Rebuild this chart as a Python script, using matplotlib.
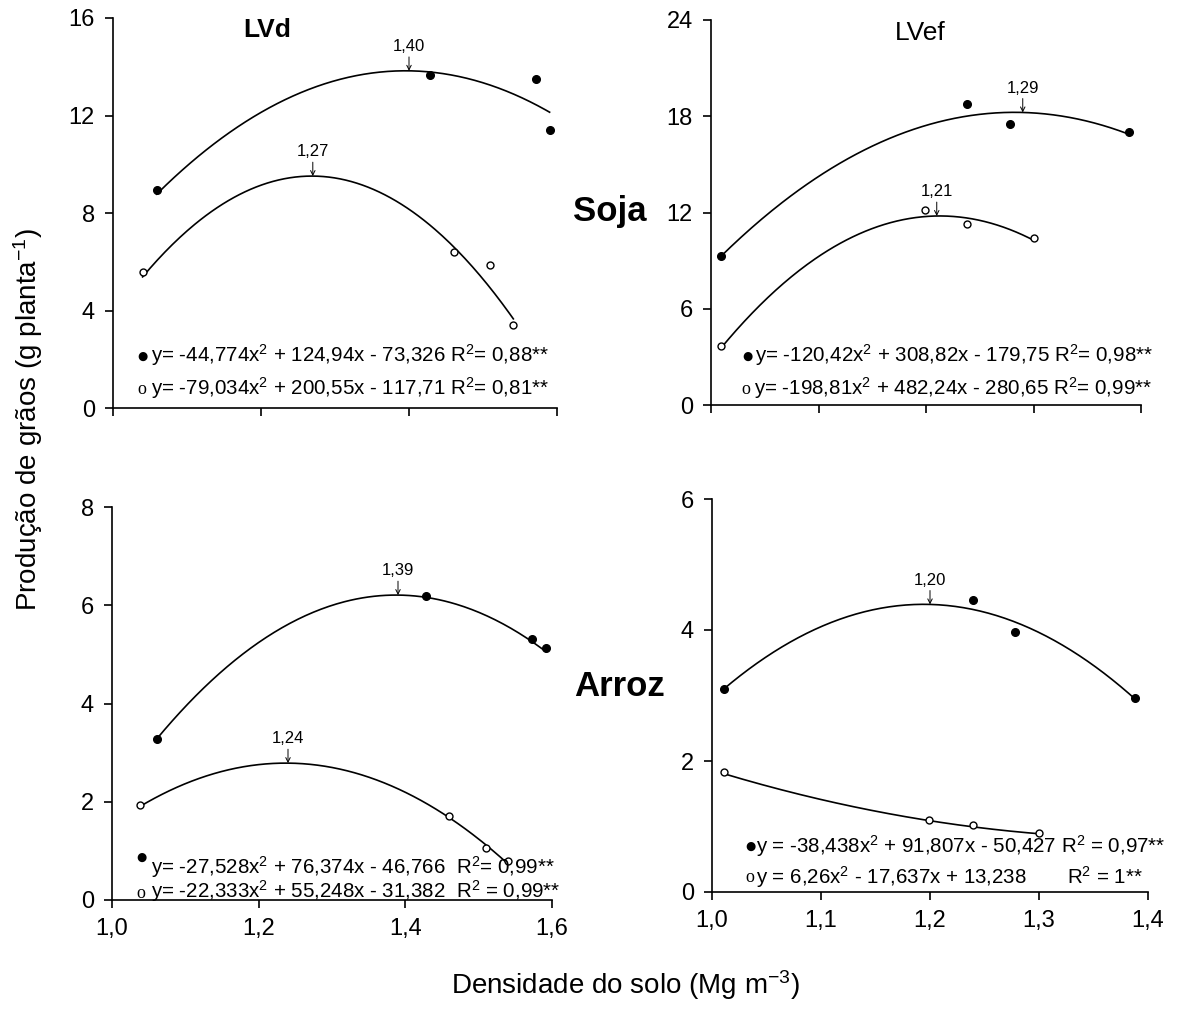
import numpy as np
import matplotlib.pyplot as plt

plt.rcParams['font.family'] = ['Liberation Sans', 'DejaVu Sans']
plt.rcParams['mathtext.fontset'] = 'custom'
plt.rcParams['mathtext.rm'] = 'Liberation Sans'
plt.rcParams['mathtext.it'] = 'Liberation Sans:italic'
plt.rcParams['mathtext.bf'] = 'Liberation Sans:bold'

# %%
# Dados (densidade do solo, produção de grãos)
# LVd - Soja
lvd_soja_x_cheio = [1.059, 1.428, 1.572, 1.590]
lvd_soja_y_cheio = [8.93, 13.65, 13.50, 11.40]
lvd_soja_x_vazio = [1.040, 1.461, 1.510, 1.541]
lvd_soja_y_vazio = [5.57, 6.40, 5.86, 3.40]
lvd_soja_coef_cheio = [-44.774, 124.94, -73.326]
lvd_soja_coef_vazio = [-79.034, 200.55, -117.71]
lvd_soja_max = [1.40, 1.27]

# LVef - Soja
lvef_soja_x_cheio = [1.009, 1.238, 1.278, 1.389]
lvef_soja_y_cheio = [9.29, 18.76, 17.50, 17.00]
lvef_soja_x_vazio = [1.009, 1.199, 1.238, 1.300]
lvef_soja_y_vazio = [3.68, 12.16, 11.30, 10.40]
lvef_soja_coef_cheio = [-120.42, 308.82, -179.75]
lvef_soja_coef_vazio = [-198.81, 482.24, -280.65]
lvef_soja_max = [1.29, 1.21]

# LVd - Arroz
lvd_arroz_x_cheio = [1.061, 1.428, 1.573, 1.592]
lvd_arroz_y_cheio = [3.28, 6.19, 5.31, 5.13]
lvd_arroz_x_vazio = [1.038, 1.460, 1.510, 1.540]
lvd_arroz_y_vazio = [1.93, 1.71, 1.06, 0.79]
lvd_arroz_coef_cheio = [-27.528, 76.374, -46.766]
lvd_arroz_coef_vazio = [-22.333, 55.248, -31.382]
lvd_arroz_max = [1.39, 1.24]

# LVef - Arroz
lvef_arroz_x_cheio = [1.011, 1.239, 1.278, 1.388]
lvef_arroz_y_cheio = [3.10, 4.46, 3.97, 2.96]
lvef_arroz_x_vazio = [1.011, 1.199, 1.239, 1.300]
lvef_arroz_y_vazio = [1.83, 1.10, 1.02, 0.90]
lvef_arroz_coef_cheio = [-38.438, 91.807, -50.427]
lvef_arroz_coef_vazio = [6.26, -17.637, 13.238]
lvef_arroz_max = [1.20]

# Ticks dos eixos
ticks_x_lvd = [1.0, 1.2, 1.4, 1.6]
ticks_x_lvef = [1.0, 1.1, 1.2, 1.3, 1.4]
ticks_y_soja_lvd = [0, 4, 8, 12, 16]
ticks_y_soja_lvef = [0, 6, 12, 18, 24]
ticks_y_arroz_lvd = [0, 2, 4, 6, 8]
ticks_y_arroz_lvef = [0, 2, 4, 6]

# %%
W, H = 1188, 1029
fig = plt.figure(figsize=(W / 100, H / 100), dpi=100)


def fx(px):
    return px / W


def fy(py):
    return 1 - py / H


def virgula(v, casas):
    return f"{v:.{casas}f}".replace('.', ',')


def curva(ax, xs, coef):
    x = np.linspace(min(xs), max(xs), 200)
    y = coef[0] * x ** 2 + coef[1] * x + coef[2]
    ax.plot(x, y, color='black', lw=1.2, zorder=2)


def seta(ax, x0, coef):
    y0 = coef[0] * x0 ** 2 + coef[1] * x0 + coef[2]
    ax.annotate(virgula(x0, 2), xy=(x0, y0), xytext=(0, 12), textcoords='offset points',
                ha='center', va='bottom', fontsize=12,
                arrowprops=dict(arrowstyle='->', lw=0.7, color='black',
                                shrinkA=0, shrinkB=0, mutation_scale=8))


def painel(ax, xc, yc, xv, yv, cc, cv, maximos, xticks, yticks, ndec_x):
    curva(ax, xc, cc)
    curva(ax, xv, cv)
    ax.plot(xc, yc, 'o', color='black', ms=5.5, zorder=3)
    ax.plot(xv, yv, 'o', mfc='white', mec='black', mew=1.0, ms=5, zorder=3)
    seta(ax, maximos[0], cc)
    if len(maximos) > 1:
        seta(ax, maximos[1], cv)
    ax.set_xlim(xticks[0], xticks[-1])
    ax.set_ylim(yticks[0], yticks[-1])
    ax.set_xticks(xticks)
    ax.set_yticks(yticks)
    ax.set_xticklabels([virgula(t, ndec_x) for t in xticks])
    ax.set_yticklabels([str(t) for t in yticks])
    for s in ['top', 'right']:
        ax.spines[s].set_visible(False)
    for s in ['left', 'bottom']:
        ax.spines[s].set_linewidth(1.2)
    ax.tick_params(direction='out', length=6, width=1.2, labelsize=17, pad=7)
    ax.patch.set_alpha(0)


ax1 = fig.add_axes([fx(113), fy(408), fx(557) - fx(113), fy(18) - fy(408)])
painel(ax1, lvd_soja_x_cheio, lvd_soja_y_cheio, lvd_soja_x_vazio, lvd_soja_y_vazio,
       lvd_soja_coef_cheio, lvd_soja_coef_vazio, lvd_soja_max, ticks_x_lvd, ticks_y_soja_lvd, 1)
ax1.tick_params(labelbottom=False)

ax2 = fig.add_axes([fx(711), fy(405), fx(1141) - fx(711), fy(20) - fy(405)])
painel(ax2, lvef_soja_x_cheio, lvef_soja_y_cheio, lvef_soja_x_vazio, lvef_soja_y_vazio,
       lvef_soja_coef_cheio, lvef_soja_coef_vazio, lvef_soja_max, ticks_x_lvef, ticks_y_soja_lvef, 1)
ax2.tick_params(labelbottom=False)

ax3 = fig.add_axes([fx(112), fy(900), fx(552) - fx(112), fy(507) - fy(900)])
painel(ax3, lvd_arroz_x_cheio, lvd_arroz_y_cheio, lvd_arroz_x_vazio, lvd_arroz_y_vazio,
       lvd_arroz_coef_cheio, lvd_arroz_coef_vazio, lvd_arroz_max, ticks_x_lvd, ticks_y_arroz_lvd, 1)

ax4 = fig.add_axes([fx(712), fy(892), fx(1148) - fx(712), fy(499) - fy(892)])
painel(ax4, lvef_arroz_x_cheio, lvef_arroz_y_cheio, lvef_arroz_x_vazio, lvef_arroz_y_vazio,
       lvef_arroz_coef_cheio, lvef_arroz_coef_vazio, lvef_arroz_max, ticks_x_lvef, ticks_y_arroz_lvef, 1)

# %%
# Equações de regressão
eq_fs = 14.8


def equacao(px_sim, py_sim, simbolo, px_txt, py_txt, texto):
    if simbolo == 'cheio':
        fig.text(fx(px_sim), fy(py_sim), '●', fontsize=8.5, ha='center', va='center',
                 family=['DejaVu Sans'])
    else:
        fig.text(fx(px_sim), fy(py_sim), 'o', fontsize=13, ha='center', va='center',
                 family=['Liberation Serif'])
    fig.text(fx(px_txt), fy(py_txt), texto, fontsize=eq_fs, ha='left', va='center')


equacao(142, 356, 'cheio', 151, 355, 'y= -44,774x$^2$ + 124,94x - 73,326 R$^2$= 0,88**')
equacao(142, 390, 'vazio', 151, 388, 'y= -79,034x$^2$ + 200,55x - 117,71 R$^2$= 0,81**')
equacao(747, 356, 'cheio', 755, 355, 'y= -120,42x$^2$ + 308,82x - 179,75 R$^2$= 0,98**')
equacao(746, 390, 'vazio', 754, 388, 'y= -198,81x$^2$ + 482,24x - 280,65 R$^2$= 0,99**')
equacao(141, 857, 'cheio', 151, 867, 'y= -27,528x$^2$ + 76,374x - 46,766  R$^2$= 0,99**')
equacao(141, 893, 'vazio', 151, 891, 'y= -22,333x$^2$ + 55,248x - 31,382  R$^2$ = 0,99**')
equacao(750, 846, 'cheio', 756, 846, 'y = -38,438x$^2$ + 91,807x - 50,427 R$^2$ = 0,97**')
equacao(750, 877, 'vazio', 756, 877, 'y = 6,26x$^2$ - 17,637x + 13,238')
fig.text(fx(1067), fy(877), 'R$^2$ = 1**', fontsize=eq_fs, ha='left', va='center')

# %%
# Títulos e rótulos
fig.text(fx(267), fy(30), 'LVd', fontsize=19, fontweight='bold', ha='center', va='center')
fig.text(fx(920), fy(33), 'LVef', fontsize=19, ha='center', va='center')
fig.text(fx(610), fy(212), 'Soja', fontsize=25, fontweight='bold', ha='center', va='center')
fig.text(fx(620), fy(686), 'Arroz', fontsize=25, fontweight='bold', ha='center', va='center')
fig.text(fx(28), fy(420), 'Produção de grãos (g planta$^{-1}$)', fontsize=20,
         rotation=90, ha='center', va='center')
fig.text(fx(625), fy(985), 'Densidade do solo (Mg m$^{-3}$)', fontsize=20,
         ha='center', va='center')

plt.savefig('out.png', dpi=100)
